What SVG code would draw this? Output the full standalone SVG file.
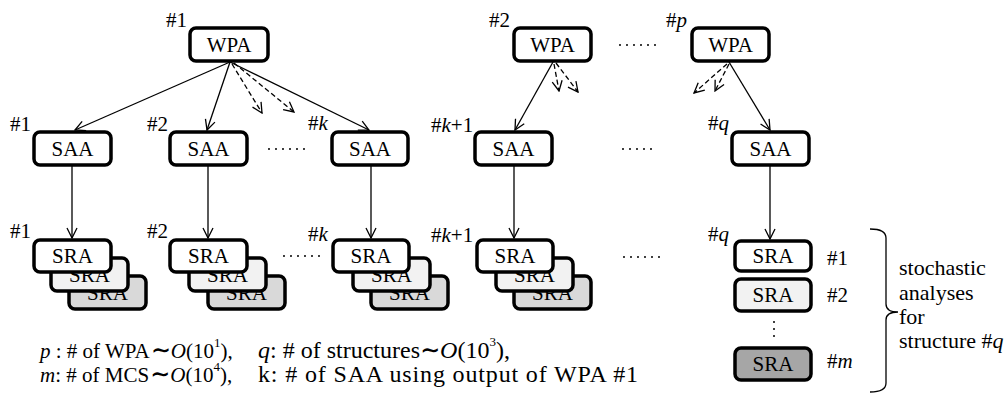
<svg xmlns="http://www.w3.org/2000/svg" width="1008" height="393" viewBox="0 0 1008 393" font-family="'Liberation Serif', 'DejaVu Serif', serif">
  <style>
    text { font-family: 'Liberation Serif', 'DejaVu Serif', serif; fill: #000; }
    .lbl { font-size: 21px; text-anchor: middle; }
    .idx { font-size: 21px; }
    .cap { font-size: 22px; }
    .note { font-size: 21px; }
    .note2 { font-size: 24px; }
    .sup { font-size: 13px; }
    .til { font-size: 24px; font-weight: bold; }
    .it { font-style: italic; }
    .box { stroke: #000; stroke-width: 3.5; }
    .w { fill: #ffffff; }
    .g1 { fill: #f2f2f2; }
    .g2 { fill: #d9d9d9; }
    .g3 { fill: #a6a6a6; }
    .ln { stroke: #000; stroke-width: 1.3; fill: none; }
    .dash { stroke-dasharray: 5 3; }
    .dots { stroke: #000; stroke-width: 2; stroke-linecap: round; stroke-dasharray: 0 7; fill: none; }
  </style>
  <defs>
    <marker id="arr" viewBox="0 0 12 12" refX="11" refY="6" markerWidth="12" markerHeight="12" orient="auto" markerUnits="userSpaceOnUse">
      <path d="M1,1 L11,6 L1,11" fill="none" stroke="#000" stroke-width="1.3"/>
    </marker>
  </defs>

  <!-- connectors -->
  <g id="connectors">
    <path class="ln" d="M230,62 L75,130" marker-end="url(#arr)"/>
    <path class="ln" d="M230,62 L207,130" marker-end="url(#arr)"/>
    <path class="ln" d="M230,62 L369,130" marker-end="url(#arr)"/>
    <path class="ln dash" d="M232,64 L262,113" marker-end="url(#arr)"/>
    <path class="ln dash" d="M234,63 L294,112" marker-end="url(#arr)"/>

    <path class="ln" d="M553,62 L515,130" marker-end="url(#arr)"/>
    <path class="ln dash" d="M554,64 L559,91" marker-end="url(#arr)"/>
    <path class="ln dash" d="M556,63 L578,92" marker-end="url(#arr)"/>

    <path class="ln" d="M729,62 L770,130" marker-end="url(#arr)"/>
    <path class="ln dash" d="M727,64 L694,93" marker-end="url(#arr)"/>
    <path class="ln dash" d="M729,64 L715,91" marker-end="url(#arr)"/>

    <path class="ln" d="M72,166 L72,238" marker-end="url(#arr)"/>
    <path class="ln" d="M208,166 L208,238" marker-end="url(#arr)"/>
    <path class="ln" d="M371,166 L371,238" marker-end="url(#arr)"/>
    <path class="ln" d="M514,166 L514,238" marker-end="url(#arr)"/>
    <path class="ln" d="M770,166 L770,239" marker-end="url(#arr)"/>
  </g>

  <!-- WPA row -->
  <g id="wpa1">
    <rect class="box w" x="190" y="28" width="78" height="33" rx="6"/>
    <text class="lbl" x="229" y="52">WPA</text>
    <text class="idx" x="166" y="27">#1</text>
  </g>
  <g id="wpa2">
    <rect class="box w" x="514" y="28" width="77" height="33" rx="6"/>
    <text class="lbl" x="552.5" y="52">WPA</text>
    <text class="idx" x="489" y="27">#2</text>
  </g>
  <g id="wpap">
    <rect class="box w" x="692" y="28" width="77" height="33" rx="6"/>
    <text class="lbl" x="730.5" y="52">WPA</text>
    <text class="idx" x="666" y="27">#<tspan class="it">p</tspan></text>
  </g>
  <path class="dots" d="M620,45 L658,45"/>

  <!-- SAA row -->
  <g id="saa1">
    <rect class="box w" x="34" y="132" width="77" height="33" rx="6"/>
    <text class="lbl" x="72.5" y="156">SAA</text>
    <text class="idx" x="10" y="131">#1</text>
  </g>
  <g id="saa2">
    <rect class="box w" x="170" y="132" width="77" height="33" rx="6"/>
    <text class="lbl" x="208.5" y="156">SAA</text>
    <text class="idx" x="147" y="131">#2</text>
  </g>
  <g id="saak">
    <rect class="box w" x="332" y="132" width="76" height="33" rx="6"/>
    <text class="lbl" x="370" y="156">SAA</text>
    <text class="idx" x="308" y="130">#<tspan class="it">k</tspan></text>
  </g>
  <g id="saak1">
    <rect class="box w" x="475" y="132" width="77" height="33" rx="6"/>
    <text class="lbl" x="513.5" y="156">SAA</text>
    <text class="idx" x="431" y="132">#<tspan class="it">k</tspan>+1</text>
  </g>
  <g id="saaq">
    <rect class="box w" x="732" y="132" width="77" height="33" rx="6"/>
    <text class="lbl" x="770.5" y="156">SAA</text>
    <text class="idx" x="708" y="130">#<tspan class="it">q</tspan></text>
  </g>
  <path class="dots" d="M269,149 L307,149"/>
  <path class="dots" d="M623,149 L658,149"/>

  <!-- SRA stacks -->
  <g id="sra1">
    <rect class="box g2" x="69" y="276" width="77" height="33" rx="6"/>
    <text class="lbl" x="107.5" y="300">SRA</text>
    <rect class="box g1" x="51" y="258" width="77" height="33" rx="6"/>
    <text class="lbl" x="89.5" y="282">SRA</text>
    <rect class="box w" x="34" y="240" width="77" height="32" rx="6"/>
    <text class="lbl" x="72.5" y="263">SRA</text>
    <text class="idx" x="10" y="238">#1</text>
  </g>
  <g id="sra2">
    <rect class="box g2" x="208" y="276" width="77" height="33" rx="6"/>
    <text class="lbl" x="246.5" y="300">SRA</text>
    <rect class="box g1" x="189" y="258" width="77" height="33" rx="6"/>
    <text class="lbl" x="227.5" y="282">SRA</text>
    <rect class="box w" x="170" y="240" width="77" height="32" rx="6"/>
    <text class="lbl" x="208.5" y="263">SRA</text>
    <text class="idx" x="147" y="238">#2</text>
  </g>
  <g id="srak">
    <rect class="box g2" x="371" y="276" width="77" height="33" rx="6"/>
    <text class="lbl" x="409.5" y="300">SRA</text>
    <rect class="box g1" x="353" y="258" width="77" height="33" rx="6"/>
    <text class="lbl" x="391.5" y="282">SRA</text>
    <rect class="box w" x="333" y="240" width="76" height="32" rx="6"/>
    <text class="lbl" x="371" y="263">SRA</text>
    <text class="idx" x="308" y="241">#<tspan class="it">k</tspan></text>
  </g>
  <g id="srak1">
    <rect class="box g2" x="514" y="276" width="77" height="33" rx="6"/>
    <text class="lbl" x="552.5" y="300">SRA</text>
    <rect class="box g1" x="496" y="258" width="77" height="33" rx="6"/>
    <text class="lbl" x="534.5" y="282">SRA</text>
    <rect class="box w" x="477" y="240" width="76" height="32" rx="6"/>
    <text class="lbl" x="515" y="263">SRA</text>
    <text class="idx" x="431" y="242">#<tspan class="it">k</tspan>+1</text>
  </g>
  <path class="dots" d="M284,256 L322,256"/>
  <path class="dots" d="M624,257 L660,257"/>

  <!-- SRA column for structure q -->
  <g id="sraq1">
    <rect class="box w" x="735" y="241" width="76" height="30" rx="6"/>
    <text class="lbl" x="773" y="263">SRA</text>
    <text class="idx" x="708" y="241">#<tspan class="it">q</tspan></text>
    <text class="idx" x="827" y="265">#1</text>
  </g>
  <g id="sraq2">
    <rect class="box g1" x="735" y="279" width="76" height="32" rx="6"/>
    <text class="lbl" x="773" y="302">SRA</text>
    <text class="idx" x="827" y="302">#2</text>
  </g>
  <g id="sraqm">
    <rect class="box g3" x="735" y="348" width="76" height="32" rx="6"/>
    <text class="lbl" x="773" y="371">SRA</text>
    <text class="idx" x="827" y="368">#<tspan class="it">m</tspan></text>
  </g>
  <g id="vdots" fill="#000">
    <circle cx="774" cy="322" r="1"/>
    <circle cx="774" cy="329" r="1"/>
    <circle cx="774" cy="336" r="1"/>
  </g>

  <!-- brace and caption -->
  <g id="brace">
    <path class="ln" d="M870,229 Q886,229 886,238 L886,304 Q886,312 898,312 Q886,312 886,320 L886,383 Q886,392 870,392"/>
    <text class="cap" x="899" y="275">stochastic</text>
    <text class="cap" x="899" y="300">analyses</text>
    <text class="cap" x="899" y="324">for</text>
    <text class="cap" x="899" y="348">structure #<tspan class="it">q</tspan></text>
  </g>

  <!-- legend -->
  <g id="legend">
    <text class="note" x="40" y="358"><tspan class="it">p</tspan> : # of WPA<tspan class="til" dx="1">∼</tspan><tspan class="it">O</tspan>(10<tspan class="sup" dy="-11">1</tspan><tspan dy="11">),</tspan></text>
    <text class="note2" x="258" y="358"><tspan class="it">q</tspan>: # of structures<tspan class="til">∼</tspan><tspan class="it">O</tspan>(10<tspan class="sup" dy="-12">3</tspan><tspan dy="12">),</tspan></text>

    <text class="note" x="40" y="382"><tspan class="it">m</tspan>: # of MCS<tspan class="til" dx="1">∼</tspan><tspan class="it">O</tspan>(10<tspan class="sup" dy="-11">4</tspan><tspan dy="11">),</tspan></text>
    <text class="note2" x="258" y="382" textLength="380">k: # of SAA using output of WPA #1</text>
  </g>
</svg>
